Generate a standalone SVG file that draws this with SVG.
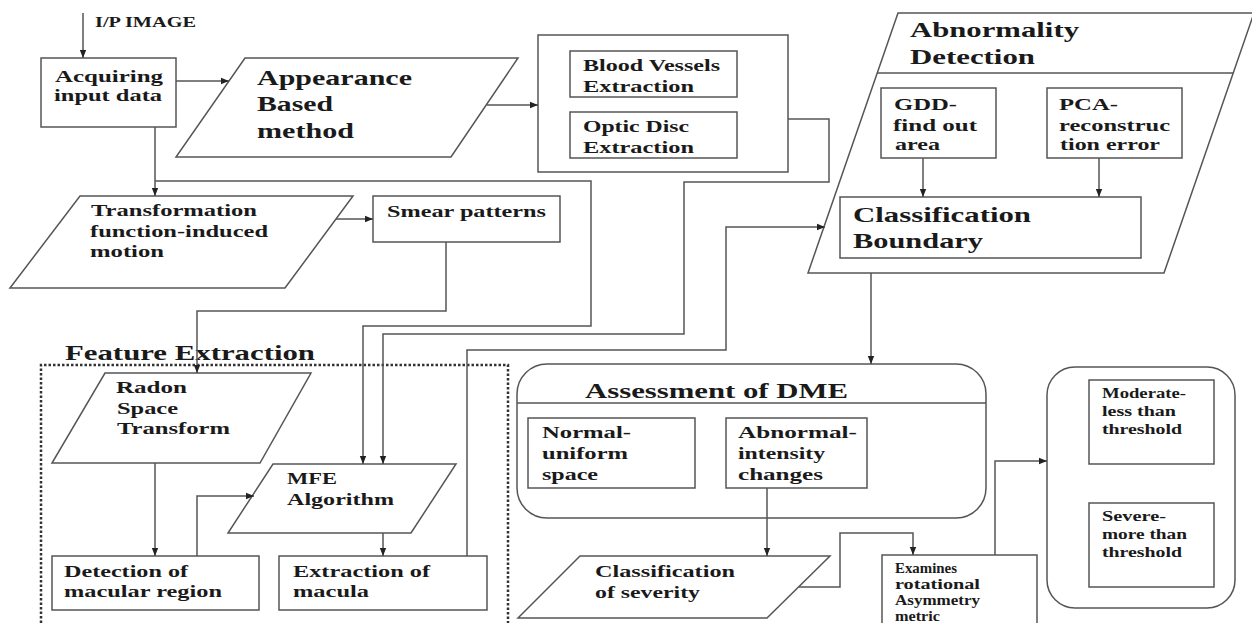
<svg xmlns="http://www.w3.org/2000/svg" width="1252" height="623" viewBox="0 0 1252 623">
<style>
.bx{fill:#fff;stroke:#555;stroke-width:1.5}
.ln{fill:none;stroke:#555;stroke-width:1.5}
.ar{fill:none;stroke:#555;stroke-width:1.5;marker-end:url(#arr)}
.dot{fill:none;stroke:#333;stroke-width:2.5;stroke-dasharray:2.5 2}
text{font-family:"Liberation Serif","Times New Roman",serif;font-weight:bold;fill:#1a1a1a}
.b{font-size:22px}
.m{font-size:17px}
.s{font-size:14px}
</style>
<defs>
<marker id="arr" viewBox="0 0 10 10" refX="10" refY="5" markerWidth="8" markerHeight="8" markerUnits="userSpaceOnUse" orient="auto"><path d="M0,1 L10,5 L0,9 z" fill="#222"/></marker>
</defs>
<rect width="1252" height="623" fill="#fff"/>

<g id="feature-extraction">
<path class="dot" d="M41,623 V365 H508 V623"/>
<text class="b" x="65" y="360" textLength="250" lengthAdjust="spacingAndGlyphs">Feature Extraction</text>
</g>

<g id="ip-image">
<text class="s" x="95" y="27" textLength="101" lengthAdjust="spacingAndGlyphs">I/P IMAGE</text>
</g>

<g id="acquiring">
<rect class="bx" x="41" y="58" width="135" height="69"/>
<text class="m" x="55" y="82" textLength="108" lengthAdjust="spacingAndGlyphs">Acquiring</text>
<text class="m" x="54" y="101" textLength="108" lengthAdjust="spacingAndGlyphs">input data</text>
</g>

<g id="appearance">
<polygon class="bx" points="245,58 518,58 451,157 176,157"/>
<text class="b" x="257" y="85" textLength="155" lengthAdjust="spacingAndGlyphs">Appearance</text>
<text class="b" x="257" y="111" textLength="76" lengthAdjust="spacingAndGlyphs">Based</text>
<text class="b" x="257" y="138" textLength="97" lengthAdjust="spacingAndGlyphs">method</text>
</g>

<g id="extraction-group">
<rect class="bx" x="538" y="35" width="250" height="137"/>
<rect class="bx" x="570" y="51" width="167" height="46"/>
<text class="m" x="583" y="71" textLength="137" lengthAdjust="spacingAndGlyphs">Blood Vessels</text>
<text class="m" x="583" y="92" textLength="111" lengthAdjust="spacingAndGlyphs">Extraction</text>
<rect class="bx" x="570" y="112" width="167" height="46"/>
<text class="m" x="583" y="132" textLength="106" lengthAdjust="spacingAndGlyphs">Optic Disc</text>
<text class="m" x="583" y="153" textLength="111" lengthAdjust="spacingAndGlyphs">Extraction</text>
</g>

<g id="abnormality-detection">
<polygon class="bx" points="898,13 1254,13 1164,273 808,273"/>
<line class="ln" x1="877" y1="73" x2="1233" y2="73"/>
<text class="b" x="910" y="37" textLength="169" lengthAdjust="spacingAndGlyphs">Abnormality</text>
<text class="b" x="910" y="64" textLength="125" lengthAdjust="spacingAndGlyphs">Detection</text>
</g>

<g id="gdd">
<rect class="bx" x="881" y="88" width="115" height="70"/>
<text class="m" x="894" y="110" textLength="63" lengthAdjust="spacingAndGlyphs">GDD-</text>
<text class="m" x="893" y="131" textLength="84" lengthAdjust="spacingAndGlyphs">find out</text>
<text class="m" x="895" y="150" textLength="45" lengthAdjust="spacingAndGlyphs">area</text>
</g>

<g id="pca">
<rect class="bx" x="1047" y="88" width="135" height="70"/>
<text class="m" x="1059" y="110" textLength="59" lengthAdjust="spacingAndGlyphs">PCA-</text>
<text class="m" x="1059" y="131" textLength="111" lengthAdjust="spacingAndGlyphs">reconstruc</text>
<text class="m" x="1060" y="150" textLength="100" lengthAdjust="spacingAndGlyphs">tion error</text>
</g>

<g id="classification-boundary">
<rect class="bx" x="840" y="197" width="301" height="61"/>
<text class="b" x="853" y="222" textLength="178" lengthAdjust="spacingAndGlyphs">Classification</text>
<text class="b" x="853" y="248" textLength="130" lengthAdjust="spacingAndGlyphs">Boundary</text>
</g>

<g id="transformation">
<polygon class="bx" points="80,196 353,196 285,288 10,288"/>
<text class="m" x="91" y="216" textLength="166" lengthAdjust="spacingAndGlyphs">Transformation</text>
<text class="m" x="90" y="237" textLength="178" lengthAdjust="spacingAndGlyphs">function-induced</text>
<text class="m" x="90" y="257" textLength="74" lengthAdjust="spacingAndGlyphs">motion</text>
</g>

<g id="smear">
<rect class="bx" x="373" y="196" width="187" height="46"/>
<text class="m" x="387" y="217" textLength="159" lengthAdjust="spacingAndGlyphs">Smear patterns</text>
</g>

<g id="radon">
<polygon class="bx" points="105,373 311,373 260,463 52,463"/>
<text class="m" x="116" y="393" textLength="71" lengthAdjust="spacingAndGlyphs">Radon</text>
<text class="m" x="117" y="414" textLength="61" lengthAdjust="spacingAndGlyphs">Space</text>
<text class="m" x="117" y="434" textLength="113" lengthAdjust="spacingAndGlyphs">Transform</text>
</g>

<g id="mfe">
<polygon class="bx" points="273,464 456,464 411,533 228,533"/>
<text class="m" x="287" y="484" textLength="50" lengthAdjust="spacingAndGlyphs">MFE</text>
<text class="m" x="287" y="505" textLength="107" lengthAdjust="spacingAndGlyphs">Algorithm</text>
</g>

<g id="detection">
<rect class="bx" x="52" y="556" width="207" height="54"/>
<text class="m" x="64" y="577" textLength="124" lengthAdjust="spacingAndGlyphs">Detection of</text>
<text class="m" x="64" y="597" textLength="158" lengthAdjust="spacingAndGlyphs">macular region</text>
</g>

<g id="extraction-macula">
<rect class="bx" x="279" y="556" width="208" height="54"/>
<text class="m" x="293" y="577" textLength="137" lengthAdjust="spacingAndGlyphs">Extraction of</text>
<text class="m" x="293" y="597" textLength="76" lengthAdjust="spacingAndGlyphs">macula</text>
</g>

<g id="assessment">
<rect class="bx" x="517" y="364" width="469" height="154" rx="30"/>
<line class="ln" x1="517" y1="403" x2="986" y2="403"/>
<text class="b" x="585" y="398" textLength="263" lengthAdjust="spacingAndGlyphs">Assessment of DME</text>
</g>

<g id="normal">
<rect class="bx" x="528" y="418" width="167" height="70"/>
<text class="m" x="542" y="438" textLength="89" lengthAdjust="spacingAndGlyphs">Normal-</text>
<text class="m" x="542" y="459" textLength="86" lengthAdjust="spacingAndGlyphs">uniform</text>
<text class="m" x="542" y="480" textLength="56" lengthAdjust="spacingAndGlyphs">space</text>
</g>

<g id="abnormal">
<rect class="bx" x="726" y="418" width="141" height="70"/>
<text class="m" x="738" y="438" textLength="119" lengthAdjust="spacingAndGlyphs">Abnormal-</text>
<text class="m" x="738" y="459" textLength="87" lengthAdjust="spacingAndGlyphs">intensity</text>
<text class="m" x="738" y="480" textLength="85" lengthAdjust="spacingAndGlyphs">changes</text>
</g>

<g id="severity">
<polygon class="bx" points="580,556 830,556 767,618 518,618"/>
<text class="m" x="595" y="577" textLength="140" lengthAdjust="spacingAndGlyphs">Classification</text>
<text class="m" x="595" y="598" textLength="105" lengthAdjust="spacingAndGlyphs">of severity</text>
</g>

<g id="examines">
<rect class="bx" x="882" y="555" width="155" height="80"/>
<text class="s" x="895" y="573" textLength="62" lengthAdjust="spacingAndGlyphs">Examines</text>
<text class="s" x="895" y="589" textLength="85" lengthAdjust="spacingAndGlyphs">rotational</text>
<text class="s" x="895" y="605" textLength="85" lengthAdjust="spacingAndGlyphs">Asymmetry</text>
<text class="s" x="895" y="621" textLength="45" lengthAdjust="spacingAndGlyphs">metric</text>
</g>

<g id="severity-levels">
<rect class="bx" x="1047" y="367" width="188" height="241" rx="28"/>
</g>

<g id="moderate">
<rect class="bx" x="1089" y="380" width="125" height="84"/>
<text class="s" x="1102" y="398" textLength="84" lengthAdjust="spacingAndGlyphs">Moderate-</text>
<text class="s" x="1102" y="416" textLength="74" lengthAdjust="spacingAndGlyphs">less than</text>
<text class="s" x="1102" y="434" textLength="80" lengthAdjust="spacingAndGlyphs">threshold</text>
</g>

<g id="severe">
<rect class="bx" x="1089" y="503" width="125" height="84"/>
<text class="s" x="1102" y="521" textLength="64" lengthAdjust="spacingAndGlyphs">Severe-</text>
<text class="s" x="1102" y="539" textLength="85" lengthAdjust="spacingAndGlyphs">more than</text>
<text class="s" x="1102" y="557" textLength="80" lengthAdjust="spacingAndGlyphs">threshold</text>
</g>

<g id="connectors">
<path class="ar" d="M83,13 V58"/>
<path class="ar" d="M176,81 H229"/>
<path class="ar" d="M487,105 H538"/>
<path class="ar" d="M155,127 V196"/>
<path class="ar" d="M155,181 H591 V326 H363 V464"/>
<path class="ar" d="M788,119 H829 V182 H684 V334 H383 V464"/>
<path class="ar" d="M336,219 H373"/>
<path class="ar" d="M446,242 V311 H197 V373"/>
<path class="ar" d="M155,463 V556"/>
<path class="ar" d="M197,556 V496 H254"/>
<path class="ar" d="M383,533 V556"/>
<path class="ar" d="M467,556 V350 H726 V227 H825"/>
<path class="ar" d="M923,158 V197"/>
<path class="ar" d="M1099,158 V197"/>
<path class="ar" d="M871,273 V364"/>
<path class="ar" d="M767,488 V556"/>
<path class="ar" d="M799,587 H840 V533 H913 V555"/>
<path class="ar" d="M995,555 V461 H1047"/>
</g>
</svg>
